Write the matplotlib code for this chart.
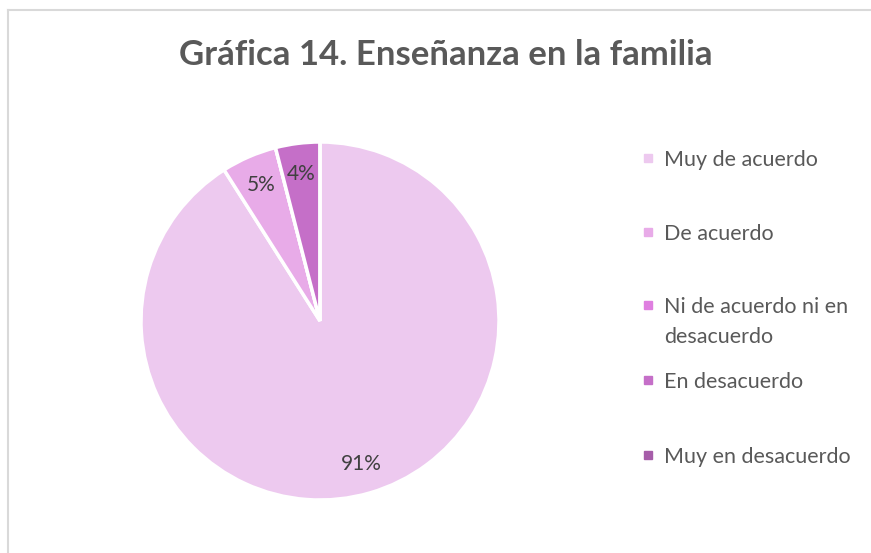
import matplotlib
matplotlib.use("Agg")
import matplotlib.pyplot as plt
from matplotlib.lines import Line2D
from matplotlib.patches import Rectangle

title = "Gráfica 14. Enseñanza en la familia"
categories = ["Muy de acuerdo", "De acuerdo", "Ni de acuerdo ni en\ndesacuerdo",
              "En desacuerdo", "Muy en desacuerdo"]
values = [91, 5, 0, 4, 0]
colors = ["#EDC9EF", "#E8ABE8", "#DF7FE0", "#C56FC8", "#A65DA9"]

W, H = 871, 553
fig = plt.figure(figsize=(W / 100, H / 100), dpi=100)
plt.rcParams['font.family'] = ['Lato', 'DejaVu Sans']

# chart border (left and top visible)
fig.add_artist(Line2D([8 / W, 8 / W], [0, 1 - 10 / H], color="#D9D9D9", lw=1.5))
fig.add_artist(Line2D([8 / W, 1], [1 - 10 / H, 1 - 10 / H], color="#D9D9D9", lw=1.5))

fig.text(446 / W, 1 - 55 / H, title, ha="center", va="center",
         fontsize=25, fontweight="bold", color="#595959")

cx, cy, r = 320, 321, 179
ax = fig.add_axes([(cx - r) / W, (H - cy - r) / H, 2 * r / W, 2 * r / H])


def fmt(p):
    return f"{p:.0f}%" if p > 0.5 else ""


wedges, texts, autotexts = ax.pie(
    values, colors=colors, startangle=90, counterclock=False,
    autopct=fmt, pctdistance=0.83,
    wedgeprops=dict(edgecolor="white", linewidth=2.5),
    textprops=dict(fontsize=15, color="#404040"))
ax.set_xlim(-1, 1)
ax.set_ylim(-1, 1)
ax.set_aspect("auto")
ax.axis("off")

# legend
ys = [158, 232, 305, 380, 455]
for cat, col, y in zip(categories, colors, ys):
    fig.add_artist(Rectangle(((648 - 4) / W, 1 - (y + 4) / H), 8 / W, 8 / H,
                             transform=fig.transFigure, color=col))
    for i, line in enumerate(cat.split("\n")):
        fig.text(664 / W, 1 - (y + 30 * i) / H, line, ha="left",
                 va="center_baseline", fontsize=15.5, color="#595959")

fig.savefig("out.png", dpi=100)
